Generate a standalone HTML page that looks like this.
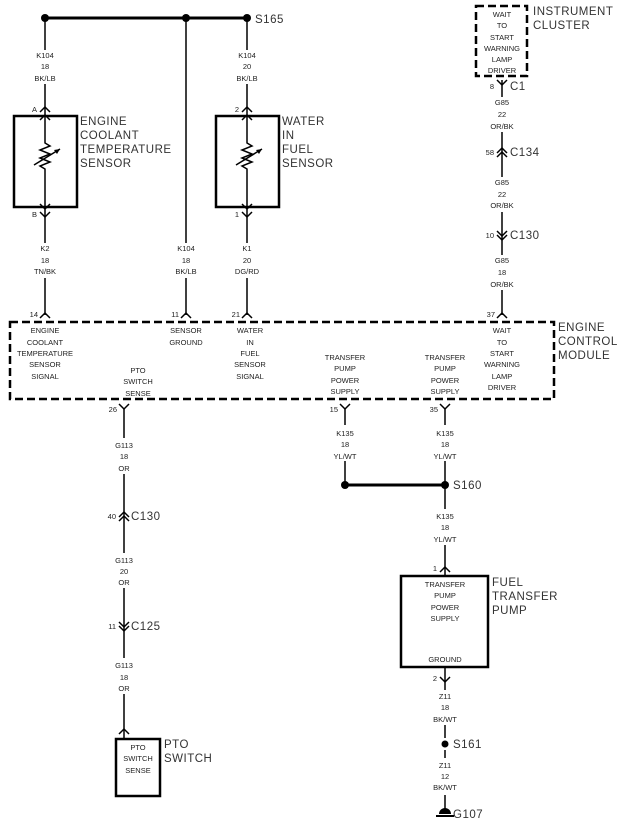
<!DOCTYPE html>
<html><head><meta charset="utf-8"><style>
html,body{margin:0;padding:0;background:#fff;}
svg{display:block;}
.s{font-family:"Liberation Sans",sans-serif;font-size:7.5px;fill:#222;text-anchor:middle;}
.L{font-family:"Liberation Sans",sans-serif;font-size:11.5px;fill:#333;letter-spacing:0.5px;}
.n{font-family:"Liberation Sans",sans-serif;font-size:7.5px;fill:#222;text-anchor:end;}
.w{stroke:#000;stroke-width:1.5;fill:none;}
.d{stroke:#000;stroke-width:2.5;fill:none;stroke-dasharray:8,4;}
.b{stroke:#000;stroke-width:2.5;fill:none;}
</style></head><body>
<svg width="640" height="837" viewBox="0 0 640 837" xmlns="http://www.w3.org/2000/svg">
<!-- top bus -->
<line x1="45" y1="18" x2="247" y2="18" stroke="#000" stroke-width="3"/>
<circle cx="45" cy="18" r="4"/><circle cx="186" cy="18" r="4"/><circle cx="247" cy="18" r="4"/>
<text class="L" x="255" y="23">S165</text>
<!-- wires -->
<path class="w" d="M45 18V50M45 84V116M45 207V243M45 278V315"/>
<path class="w" d="M186 18V243M186 278V315"/>
<path class="w" d="M247 18V50M247 84V116M247 207V243M247 278V315"/>
<text class="s" x="45" y="58">K104</text><text class="s" x="45" y="69">18</text><text class="s" x="45" y="81">BK/LB</text>
<text class="s" x="247" y="58">K104</text><text class="s" x="247" y="69">20</text><text class="s" x="247" y="81">BK/LB</text>
<text class="s" x="45" y="251">K2</text><text class="s" x="45" y="263">18</text><text class="s" x="45" y="274">TN/BK</text>
<text class="s" x="186" y="251">K104</text><text class="s" x="186" y="263">18</text><text class="s" x="186" y="274">BK/LB</text>
<text class="s" x="247" y="251">K1</text><text class="s" x="247" y="263">20</text><text class="s" x="247" y="274">DG/RD</text>
<!-- sensor boxes -->
<rect class="b" x="14" y="116" width="63" height="91"/>
<rect class="b" x="216" y="116" width="63" height="91"/>
<g class="w">
<path d="M40 112L45 107L50 112M40 120L45 115L50 120"/>
<path d="M40 204L45 209L50 204M40 212L45 217L50 212"/>
<path d="M242 112L247 107L252 112M242 120L247 115L252 120"/>
<path d="M242 204L247 209L252 204M242 212L247 217L252 212"/>
<path d="M45 116V143L50 146L40 150L50 154L40 158L50 162L40 166L45 169V207"/>
<path d="M34 165L60 149"/><path d="M247 116V143L252 146L242 150L252 154L242 158L252 162L242 166L247 169V207"/>
<path d="M236 165L262 149"/>
</g>
<path d="M60 149L54 150L57 154Z"/><path d="M262 149L256 150L259 154Z"/>
<text class="n" x="37" y="112">A</text><text class="n" x="37" y="217">B</text>
<text class="n" x="239" y="112">2</text><text class="n" x="239" y="217">1</text>
<text class="L" x="80" y="125">ENGINE</text><text class="L" x="80" y="139">COOLANT</text><text class="L" x="80" y="153">TEMPERATURE</text><text class="L" x="80" y="167">SENSOR</text>
<text class="L" x="282" y="125">WATER</text><text class="L" x="282" y="139">IN</text><text class="L" x="282" y="153">FUEL</text><text class="L" x="282" y="167">SENSOR</text>
<!-- instrument cluster -->
<rect class="d" x="476" y="6" width="51" height="70"/>
<text class="L" x="533" y="15">INSTRUMENT</text><text class="L" x="533" y="29">CLUSTER</text>
<text class="s" x="502" y="17">WAIT</text><text class="s" x="502" y="28">TO</text><text class="s" x="502" y="40">START</text><text class="s" x="502" y="51">WARNING</text><text class="s" x="502" y="62">LAMP</text><text class="s" x="502" y="73">DRIVER</text>
<path class="w" d="M502 80V97M502 132V177M502 212V255M502 290V315"/>
<path class="w" d="M497 80L502 85L507 80"/>
<text class="n" x="494" y="89">8</text><text class="L" x="510" y="90">C1</text>
<text class="s" x="502" y="105">G85</text><text class="s" x="502" y="117">22</text><text class="s" x="502" y="129">OR/BK</text>
<path class="w" d="M497 153L502 148L507 153M497 157L502 152L507 157"/>
<text class="n" x="494" y="155">58</text><text class="L" x="510" y="156">C134</text>
<text class="s" x="502" y="185">G85</text><text class="s" x="502" y="197">22</text><text class="s" x="502" y="208">OR/BK</text>
<path class="w" d="M497 231L502 236L507 231M497 235L502 240L507 235"/>
<text class="n" x="494" y="238">10</text><text class="L" x="510" y="239">C130</text>
<text class="s" x="502" y="263">G85</text><text class="s" x="502" y="275">18</text><text class="s" x="502" y="287">OR/BK</text>
<!-- ECM -->
<rect class="d" x="10" y="322" width="544" height="77"/>
<g class="w"><path d="M40 318L45 313L50 318M181 318L186 313L191 318M242 318L247 313L252 318M497 318L502 313L507 318"/>
<path d="M119 404L124 409L129 404M340 404L345 409L350 404M440 404L445 409L450 404"/></g>
<text class="n" x="38" y="317">14</text><text class="n" x="179" y="317">11</text><text class="n" x="240" y="317">21</text><text class="n" x="495" y="317">37</text>
<text class="n" x="117" y="412">26</text><text class="n" x="338" y="412">15</text><text class="n" x="438" y="412">35</text>
<text class="s" x="45" y="333">ENGINE</text><text class="s" x="45" y="345">COOLANT</text><text class="s" x="45" y="356">TEMPERATURE</text><text class="s" x="45" y="367">SENSOR</text><text class="s" x="45" y="379">SIGNAL</text>
<text class="s" x="186" y="333">SENSOR</text><text class="s" x="186" y="345">GROUND</text>
<text class="s" x="250" y="333">WATER</text><text class="s" x="250" y="345">IN</text><text class="s" x="250" y="356">FUEL</text><text class="s" x="250" y="367">SENSOR</text><text class="s" x="250" y="379">SIGNAL</text>
<text class="s" x="138" y="373">PTO</text><text class="s" x="138" y="384">SWITCH</text><text class="s" x="138" y="396">SENSE</text>
<text class="s" x="345" y="360">TRANSFER</text><text class="s" x="345" y="371">PUMP</text><text class="s" x="345" y="383">POWER</text><text class="s" x="345" y="394">SUPPLY</text>
<text class="s" x="445" y="360">TRANSFER</text><text class="s" x="445" y="371">PUMP</text><text class="s" x="445" y="383">POWER</text><text class="s" x="445" y="394">SUPPLY</text>
<text class="s" x="502" y="333">WAIT</text><text class="s" x="502" y="345">TO</text><text class="s" x="502" y="356">START</text><text class="s" x="502" y="367">WARNING</text><text class="s" x="502" y="379">LAMP</text><text class="s" x="502" y="390">DRIVER</text>
<text class="L" x="558" y="331">ENGINE</text><text class="L" x="558" y="345">CONTROL</text><text class="L" x="558" y="359">MODULE</text>
<!-- transfer pump -->
<path class="w" d="M345 409V425M345 461V485M445 409V425M445 461V509M445 545V575M445 667V690M445 725V738M445 750V758M445 795V812"/>
<text class="s" x="345" y="436">K135</text><text class="s" x="345" y="447">18</text><text class="s" x="345" y="459">YL/WT</text>
<text class="s" x="445" y="436">K135</text><text class="s" x="445" y="447">18</text><text class="s" x="445" y="459">YL/WT</text>
<line x1="345" y1="485" x2="445" y2="485" stroke="#000" stroke-width="3"/>
<circle cx="345" cy="485" r="4"/><circle cx="445" cy="485" r="4"/>
<text class="L" x="453" y="489">S160</text>
<text class="s" x="445" y="519">K135</text><text class="s" x="445" y="530">18</text><text class="s" x="445" y="542">YL/WT</text>
<path class="w" d="M440 572L445 567L450 572M440 677L445 682L450 677"/>
<text class="n" x="437" y="571">1</text><text class="n" x="437" y="681">2</text>
<rect class="b" x="401" y="576" width="87" height="91"/>
<text class="s" x="445" y="587">TRANSFER</text><text class="s" x="445" y="598">PUMP</text><text class="s" x="445" y="610">POWER</text><text class="s" x="445" y="621">SUPPLY</text>
<text class="s" x="445" y="662">GROUND</text>
<text class="L" x="492" y="586">FUEL</text><text class="L" x="492" y="600">TRANSFER</text><text class="L" x="492" y="614">PUMP</text>
<text class="s" x="445" y="699">Z11</text><text class="s" x="445" y="710">18</text><text class="s" x="445" y="722">BK/WT</text>
<circle cx="445" cy="744" r="3.5"/><text class="L" x="453" y="748">S161</text>
<text class="s" x="445" y="768">Z11</text><text class="s" x="445" y="779">12</text><text class="s" x="445" y="790">BK/WT</text>
<path d="M439 814A6 6 0 0 1 451 814Z"/><line x1="436" y1="816" x2="454" y2="816" stroke="#000" stroke-width="2"/>
<text class="L" x="453" y="818">G107</text>
<!-- PTO -->
<path class="w" d="M124 409V438M124 474V553M124 588V658M124 694V738"/>
<text class="s" x="124" y="448">G113</text><text class="s" x="124" y="459">18</text><text class="s" x="124" y="471">OR</text>
<path class="w" d="M119 517L124 512L129 517M119 521L124 516L129 521"/>
<text class="n" x="116" y="519">40</text><text class="L" x="131" y="520">C130</text>
<text class="s" x="124" y="563">G113</text><text class="s" x="124" y="574">20</text><text class="s" x="124" y="585">OR</text>
<path class="w" d="M119 622L124 627L129 622M119 626L124 631L129 626"/>
<text class="n" x="116" y="629">11</text><text class="L" x="131" y="630">C125</text>
<text class="s" x="124" y="668">G113</text><text class="s" x="124" y="680">18</text><text class="s" x="124" y="691">OR</text>
<path class="w" d="M119 734L124 729L129 734"/>
<rect class="b" x="116" y="739" width="44" height="57"/>
<text class="s" x="138" y="750">PTO</text><text class="s" x="138" y="761">SWITCH</text><text class="s" x="138" y="773">SENSE</text>
<text class="L" x="164" y="748">PTO</text><text class="L" x="164" y="762">SWITCH</text>
</svg>
</body></html>
